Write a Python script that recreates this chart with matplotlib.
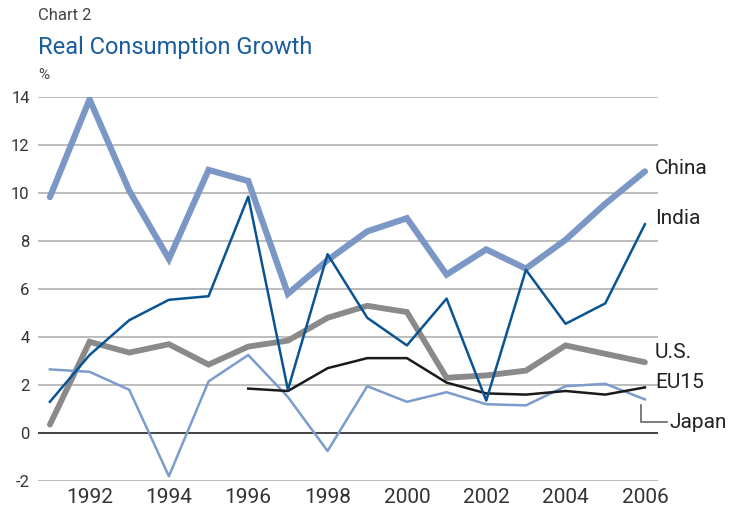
import matplotlib
matplotlib.use("Agg")
import matplotlib.pyplot as plt

plt.rcParams['font.family'] = ['Roboto', 'DejaVu Sans']
plt.rcParams['axes.unicode_minus'] = False

years = list(range(1991, 2007))
china = [9.83, 13.9, 10.1, 7.25, 10.96, 10.5, 5.8, 7.2, 8.4, 8.95, 6.6, 7.65, 6.85, 8.05, 9.55, 10.9]
india = [1.3, 3.25, 4.7, 5.55, 5.7, 9.85, 1.8, 7.45, 4.8, 3.65, 5.6, 1.35, 6.8, 4.55, 5.4, 8.7]
us = [0.35, 3.8, 3.35, 3.7, 2.85, 3.6, 3.85, 4.8, 5.3, 5.04, 2.3, 2.4, 2.6, 3.65, 3.3, 2.95]
eu_years = list(range(1996, 2007))
eu15 = [1.85, 1.75, 2.7, 3.12, 3.12, 2.1, 1.65, 1.6, 1.75, 1.6, 1.9]
japan = [2.65, 2.55, 1.8, -1.8, 2.15, 3.25, 1.5, -0.75, 1.95, 1.3, 1.7, 1.2, 1.15, 1.95, 2.05, 1.4]
yticks = [-2, 0, 2, 4, 6, 8, 10, 12, 14]
xticks = [1992, 1994, 1996, 1998, 2000, 2002, 2004, 2006]

fig = plt.figure(figsize=(7.43, 5.16), dpi=100)
ax = fig.add_axes([38/743, 1-481/516, 620/743, 384/516])

for y in yticks:
    ax.axhline(y, color='#222222' if y == 0 else '#b0b0b0', lw=1.2, zorder=1)

ax.plot(years, japan, color='#7b9ccc', lw=1.8, zorder=3)
ax.plot(eu_years, eu15, color='#1a1a1a', lw=1.8, zorder=3)
ax.plot(years, india, color='#0a5493', lw=1.8, zorder=4)
ax.plot(years, us, color='#8a8a8a', lw=4.2, solid_capstyle='round', solid_joinstyle='miter', zorder=2)
ax.plot(years, china, color='#7b97c6', lw=4.5, solid_capstyle='round', solid_joinstyle='miter', zorder=2)

ax.set_xlim(1990.7, 2006.33)
ax.set_ylim(-2, 14)
for s in ax.spines.values():
    s.set_visible(False)
ax.set_yticks(yticks)
ax.set_xticks(xticks)
ax.tick_params(length=0, colors='#333333')
ax.tick_params(axis='y', pad=6, labelsize=12)
ax.tick_params(axis='x', pad=5, labelsize=15)
for lbl in ax.get_yticklabels():
    lbl.set_horizontalalignment('right')

tc = '#222222'
ax.annotate('China', xy=(655/743, 1-168/516), xycoords='figure fraction', fontsize=15, color=tc, va='center')
ax.annotate('India', xy=(655/743, 1-218/516), xycoords='figure fraction', fontsize=15, color=tc, va='center')
ax.annotate('U.S.', xy=(655/743, 1-352/516), xycoords='figure fraction', fontsize=15, color=tc, va='center')
ax.annotate('EU15', xy=(655/743, 1-383/516), xycoords='figure fraction', fontsize=15, color=tc, va='center')
ax.annotate('Japan', xy=(670/743, 1-422/516), xycoords='figure fraction', fontsize=15, color=tc, va='center')
fig.add_artist(plt.Line2D([641/743, 641/743, 667/743], [1-405/516, 1-422/516, 1-422/516], color='#666666', lw=1.2))

fig.text(38/743, 1-16/516, 'Chart 2', fontsize=12, color='#444444', va='center')
fig.text(38/743, 1-48/516, 'Real Consumption Growth', fontsize=17, color='#1a5e9e', va='center')
fig.text(38/743, 1-75/516, '%', fontsize=11, color='#444444', va='center')

fig.savefig('out.png', dpi=100)
